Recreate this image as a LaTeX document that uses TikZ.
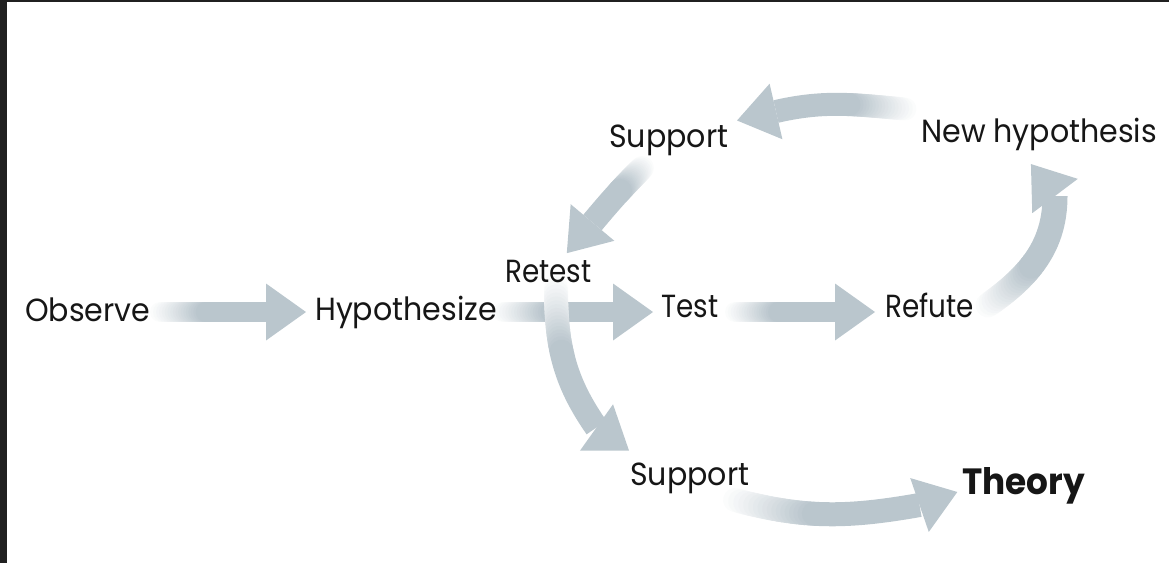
\documentclass[tikz,border=0pt]{standalone}
\usepackage{fontspec}
\setmainfont{Poppins}[FakeStretch=0.94]
\newfontfamily\narrowfont{Poppins}[FakeStretch=0.87]
\usetikzlibrary{calc}
\definecolor{arrowgray}{RGB}{186,198,205}
\definecolor{edgeband}{RGB}{32,32,32}
\definecolor{ink}{RGB}{22,22,22}
\tikzset{
  x=1pt, y=1pt,
  word/.style={anchor=base west, inner sep=0pt, text=ink,
    font=\fontsize{32}{38}\selectfont},
  narrowword/.style={word, font=\fontsize{32}{38}\narrowfont},
  boldword/.style={word, font=\fontsize{36.5}{42}\selectfont\bfseries},
  arrowhead/.style={fill=arrowgray},
}
% Block arrow whose shaft fades in from white at the tail.
% #1 shaft width, #2 tail, #3 head base, #4 out angle, #5 in angle, #6 head direction
\newcommand\blockarrow[6]{%
  \foreach \k in {0,...,40}{%
    \path (#2) to[out=#4,in=#5] coordinate[pos=\k/40] (ba\k) (#3);}%
  \foreach \k [remember=\k as \j (initially 0)] in {1,...,18}{%
    \pgfmathsetmacro\pct{\k*100/18}%
    \draw[line width=#1, line cap=round, draw=arrowgray!\pct!white] (ba\j) -- (ba\k);}%
  \draw[line width=#1, line join=round, draw=arrowgray] (ba18) \foreach \k in {19,...,40}{ -- (ba\k)};%
  \fill[arrowhead] ($(#3)+(#6+90:28.5)$) -- ($(#3)+(#6:40)$) -- ($(#3)+(#6-90:28.5)$) -- cycle;%
}
\begin{document}
\begin{tikzpicture}
\path[use as bounding box] (0,0) rectangle (1169,-563);
\fill[edgeband] (0,0) rectangle (1169,-2);
\fill[edgeband] (0,0) rectangle (7,-563);

% arrow end points
\coordinate (a1s) at (160,-312);   \coordinate (a1e) at (266,-312);
\coordinate (a2s) at (503,-312);   \coordinate (a2e) at (613,-312);
\coordinate (a3s) at (735,-312);   \coordinate (a3e) at (835,-312);
\coordinate (a4s) at (988,-305);   \coordinate (a4e) at (1055,-196);
\coordinate (a5s) at (905,-109);   \coordinate (a5e) at (776,-111.5);
\coordinate (a6s) at (642,-168);   \coordinate (a6e) at (592.5,-222.5);
\coordinate (a7s) at (556,-288);   \coordinate (a7e) at (596.5,-427.5);
\coordinate (a8s) at (735,-500);   \coordinate (a8e) at (919.5,-505);

\blockarrow{20}{a1s}{a1e}{0}{180}{0}
\blockarrow{20}{a2s}{a2e}{0}{180}{0}
\blockarrow{20}{a3s}{a3e}{0}{180}{0}
\blockarrow{25}{a4s}{a4e}{35}{-90}{127}
\blockarrow{23}{a5s}{a5e}{175}{13}{193}
\blockarrow{24}{a6s}{a6e}{225}{50}{230}
\blockarrow{24}{a7s}{a7e}{-90}{125}{-35.5}
\blockarrow{24}{a8s}{a8e}{-15}{190}{19}

% labels
\node[word] (observe) at (25,-321) {Observe};
\node[word] (hypo) at (315,-320) {Hypothesize};
\node[narrowword] (retest) at (505,-282) {Retest};
\node[narrowword] (test) at (661,-317) {Test};
\node[narrowword] (refute) at (885,-317) {Refute};
\node[word] (newhyp) at (921,-142) {New hypothesis};
\node[word] (supup) at (609,-147) {Support};
\node[word] (suplow) at (630,-485) {Support};
\node[boldword] (theory) at (962,-494) {Theory};
\end{tikzpicture}
\end{document}
